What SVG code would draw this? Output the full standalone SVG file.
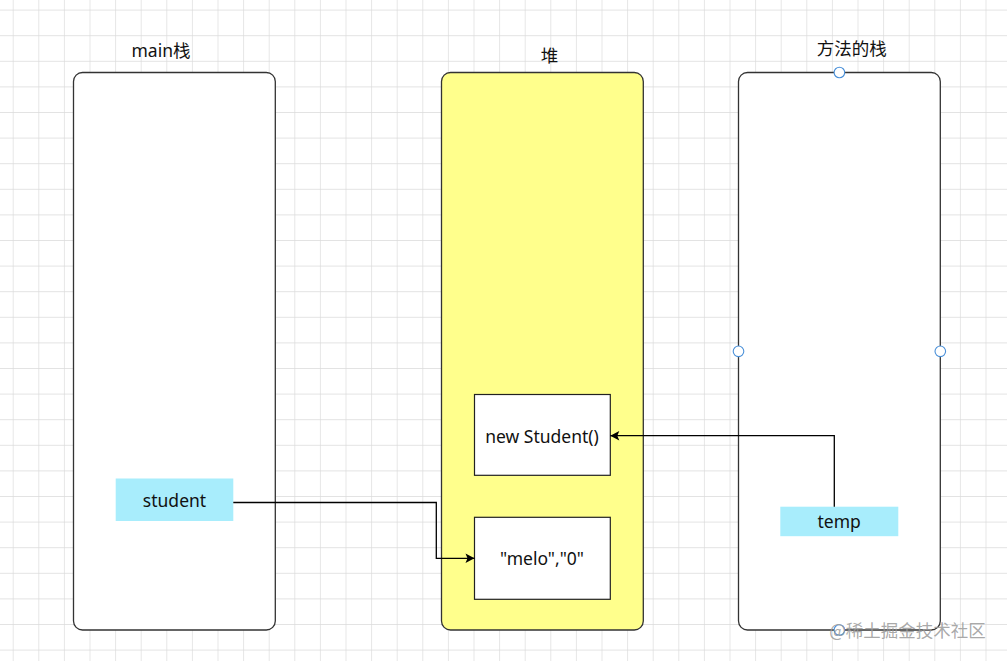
<svg xmlns="http://www.w3.org/2000/svg" width="1007" height="661" viewBox="0 0 1007 661">
<style>
.t{font-family:"Noto Sans","Noto Sans CJK SC",sans-serif;font-size:17.5px;fill:#111;text-anchor:middle}
.col{stroke:#333;stroke-width:1.3}
.box{fill:#fff;stroke:#222;stroke-width:1.2}
.var{fill:#a8edfc}
.edge{fill:none;stroke:#000;stroke-width:1.3}
.pt{fill:#fff;stroke:#4a90d9;stroke-width:1.1}
</style>
<defs>
<pattern id="grid" patternUnits="userSpaceOnUse" x="12.7" y="9.6" width="25.6" height="25.6">
<path d="M0,0 H25.6 M0,0 V25.6" fill="none" stroke="#dadada" stroke-width="1.3"/>
</pattern>
<marker id="arr" markerUnits="userSpaceOnUse" markerWidth="12" markerHeight="12" viewBox="-10 -6 12 12" refX="0" refY="0" orient="auto">
<path d="M0,0 L-9,-4.8 L-7,0 L-9,4.8 Z" fill="#000"/>
</marker>
</defs>
<rect width="1007" height="661" fill="#fff"/>
<rect width="1007" height="661" fill="url(#grid)"/>

<g id="main-stack">
<rect class="col" x="73.5" y="72.5" width="201.8" height="557.5" rx="9" fill="#fff"/>
<text class="t" x="161" y="57">main栈</text>
</g>
<g id="heap">
<rect class="col" x="441.5" y="72.5" width="201.8" height="557.5" rx="9" fill="#ffff8c"/>
<text class="t" x="549.5" y="62">堆</text>
</g>
<g id="method-stack">
<rect class="col" x="738.5" y="72.5" width="201.8" height="557.5" rx="9" fill="#fff"/>
<text class="t" x="851.7" y="55">方法的栈</text>
</g>
<g id="new-student">
<rect class="box" x="474.5" y="394.5" width="135.8" height="80.8"/>
<text class="t" x="542" y="442.5">new Student()</text>
</g>
<g id="melo">
<rect class="box" x="474.5" y="517.3" width="135.8" height="82"/>
<text class="t" x="542" y="565">"melo","0"</text>
</g>
<g id="student">
<rect class="var" x="115.7" y="478.5" width="117.6" height="42.5"/>
<text class="t" x="174.5" y="506.5">student</text>
</g>
<g id="temp">
<rect class="var" x="780.3" y="506.7" width="118" height="29.5"/>
<text class="t" x="839.2" y="528.3">temp</text>
</g>

<g id="connectors">
<path class="edge" d="M233.3,502.5 H436.3 V558.3 H474.5" marker-end="url(#arr)"/>
<path class="edge" d="M834.3,506.7 V435.7 H610.3" marker-end="url(#arr)"/>
</g>

<g id="handles">
<circle class="pt" cx="839.4" cy="72.5" r="5.3"/>
<circle class="pt" cx="738.5" cy="351.3" r="5.3"/>
<circle class="pt" cx="940.3" cy="351.3" r="5.3"/>
<circle class="pt" cx="839.4" cy="630" r="5.3"/>
</g>

<text x="907.5" y="637" font-family="'Noto Sans CJK SC',sans-serif" font-size="17.5" fill="#9a9a9a" fill-opacity="0.85" text-anchor="middle">@稀土掘金技术社区</text>
</svg>
